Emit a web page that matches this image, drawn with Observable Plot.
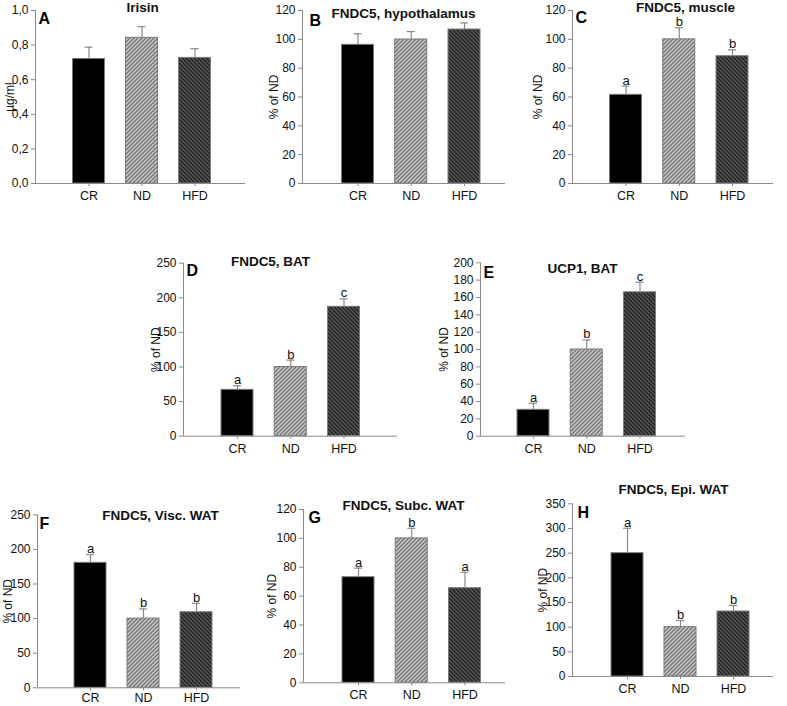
<!DOCTYPE html>
<html><head><meta charset="utf-8">
<script src="https://cdn.jsdelivr.net/npm/d3@7"></script>
<script src="https://cdn.jsdelivr.net/npm/@observablehq/plot@0.6"></script>
<style>
body{margin:0;background:#fff;}
#chart{position:relative;width:787px;height:706px;overflow:hidden;background:#fff;}
</style></head><body>
<svg width="0" height="0" style="position:absolute">
<defs>
<pattern id="hatchND" patternUnits="userSpaceOnUse" width="4" height="4">
<rect width="4" height="4" fill="#c2c2c2"/>
<path d="M-1,1 l2,-2 M0,4 l4,-4 M3,5 l2,-2" stroke="#6c6c6c" stroke-width="1.2"/>
</pattern>
<pattern id="hatchHFD" patternUnits="userSpaceOnUse" width="4" height="4">
<rect width="4" height="4" fill="#555555"/>
<path d="M-1,3 l2,2 M0,0 l4,4 M3,-1 l2,2" stroke="#202020" stroke-width="1.3"/>
</pattern>
</defs></svg>
<div id="chart"></div>
<script>
// ---- data ----
const categories = ["CR", "ND", "HFD"];
const barFills = ["#000000", "url(#hatchND)", "url(#hatchHFD)"];

const irisinMean = [0.72, 0.842, 0.726];
const irisinErr  = [0.068, 0.065, 0.053];
const irisinSig  = ["", "", ""];

const hypothMean = [96.2, 99.9, 106.8];
const hypothErr  = [7.6, 5.5, 4.6];
const hypothSig  = ["", "", ""];

const muscleMean = [61.5, 100, 88.3];
const muscleErr  = [6, 8, 4.4];
const muscleSig  = ["a", "b", "b"];

const batFndc5Mean = [67, 100, 187];
const batFndc5Err  = [6, 10, 11.5];
const batFndc5Sig  = ["a", "b", "c"];

const ucp1Mean = [30.4, 100, 166];
const ucp1Err  = [7.6, 11, 11.6];
const ucp1Sig  = ["a", "b", "c"];

const viscMean = [180.6, 100, 109.2];
const viscErr  = [12, 14, 13];
const viscSig  = ["a", "b", "b"];

const subcMean = [73.1, 100, 65.5];
const subcErr  = [6.3, 7, 11.1];
const subcSig  = ["a", "b", "a"];

const epiMean = [249.9, 100, 131.7];
const epiErr  = [50.6, 13.5, 12.2];
const epiSig  = ["a", "b", "b"];

const titles = ["Irisin", "FNDC5, hypothalamus", "FNDC5, muscle", "FNDC5, BAT", "UCP1, BAT",
                "FNDC5, Visc. WAT", "FNDC5, Subc. WAT", "FNDC5, Epi. WAT"];
const panelLetters = ["A", "B", "C", "D", "E", "F", "G", "H"];
const yLabels = ["µg/ml", "% of ND", "% of ND", "% of ND", "% of ND", "% of ND", "% of ND", "% of ND"];
const yTicksA = [0, 0.2, 0.4, 0.6, 0.8, 1.0];
const yTicks120 = [0, 20, 40, 60, 80, 100, 120];
const yTicks250 = [0, 50, 100, 150, 200, 250];
const yTicks200 = [0, 20, 40, 60, 80, 100, 120, 140, 160, 180, 200];
const yTicks350 = [0, 50, 100, 150, 200, 250, 300, 350];

// ---- layout (page pixels) ----
const panels = [
  {mean: irisinMean, err: irisinErr, sig: irisinSig, ticks: yTicksA, comma: true,
   x0: 0, y0: 0, left: 35, right: 245, top: 10, bottom: 183, c0: 88.5, step: 53, pad: 5,
   title: [142, 7], letter: [38, 18], ylab: 10},
  {mean: hypothMean, err: hypothErr, sig: hypothSig, ticks: yTicks120,
   x0: 255, y0: 0, left: 302, right: 505, top: 10, bottom: 183, c0: 357.5, step: 53.25, pad: 5,
   title: [403, 13], letter: [309, 20.5], ylab: 274},
  {mean: muscleMean, err: muscleErr, sig: muscleSig, ticks: yTicks120,
   x0: 520, y0: 0, left: 572, right: 773, top: 10, bottom: 183, c0: 625.5, step: 53.25, pad: 5,
   title: [685, 7.5], letter: [575, 17.5], ylab: 538},
  {mean: batFndc5Mean, err: batFndc5Err, sig: batFndc5Sig, ticks: yTicks250,
   x0: 135, y0: 240, left: 183, right: 397, top: 262.7, bottom: 435.7, c0: 237, step: 53.25, pad: 5,
   title: [270, 261], letter: [186, 270.5], ylab: 156},
  {mean: ucp1Mean, err: ucp1Err, sig: ucp1Sig, ticks: yTicks200,
   x0: 430, y0: 240, left: 480, right: 685, top: 262.3, bottom: 435.7, c0: 533, step: 53.25, pad: 5,
   title: [582, 268], letter: [483, 272.5], ylab: 444},
  {mean: viscMean, err: viscErr, sig: viscSig, ticks: yTicks250,
   x0: 0, y0: 480, left: 37, right: 240, top: 514.3, bottom: 687.3, c0: 90, step: 53, pad: 2.5,
   title: [160, 515], letter: [39, 523.5], ylab: 8},
  {mean: subcMean, err: subcErr, sig: subcSig, ticks: yTicks120,
   x0: 255, y0: 480, left: 303, right: 505, top: 509, bottom: 682.3, c0: 358, step: 53.25, pad: 4,
   title: [403, 505], letter: [308, 517.5], ylab: 272},
  {mean: epiMean, err: epiErr, sig: epiSig, ticks: yTicks350,
   x0: 520, y0: 480, left: 572, right: 773, top: 503.3, bottom: 676, c0: 627, step: 53, pad: 5,
   title: [673, 489], letter: [577, 512.5], ylab: 543}
];

const FONT = "'Liberation Sans', Arial, sans-serif";
const AXIS = "#8a8a8a";
const chart = document.getElementById("chart");

panels.forEach((p, k) => {
  const rows = categories.map((c, i) => ({cat: c, i, v: p.mean[i], e: p.err[i], top: p.mean[i] + p.err[i], sig: p.sig[i], fill: barFills[i]}));
  const xmin = (p.left - p.c0) / p.step;
  const xmax = (p.right - p.c0) / p.step;
  const half = 16 / p.step;
  const cap = 4 / p.step;
  const ymax = p.ticks[p.ticks.length - 1];
  const marginLeft = p.left - p.x0, marginTop = p.top - p.y0;
  const marginRight = 14, marginBottom = 26;
  const fmt = p.comma ? (d => d.toFixed(1).replace(".", ",")) : (d => String(d));
  const svg = Plot.plot({
    width: marginLeft + (p.right - p.left) + marginRight,
    height: marginTop + (p.bottom - p.top) + marginBottom,
    marginLeft, marginTop, marginRight, marginBottom,
    style: {background: "transparent", overflow: "visible", fontFamily: FONT, fontSize: "11.5px",
            position: "absolute", left: p.x0 + "px", top: p.y0 + "px", color: "#111"},
    x: {type: "linear", domain: [xmin, xmax]},
    y: {domain: [0, ymax]},
    marks: [
      Plot.rect(rows, {x1: d => d.i - half, x2: d => d.i + half, y1: 0, y2: "v",
        fill: d => d.fill, stroke: "#7a7a7a", strokeWidth: 1}),
      Plot.ruleX(rows, {x: "i", y1: "v", y2: "top", stroke: AXIS, strokeWidth: 1.2}),
      Plot.ruleY(rows, {y: "top", x1: d => d.i - cap, x2: d => d.i + cap, stroke: AXIS, strokeWidth: 1.2}),
      Plot.text(rows.filter(d => d.sig), {x: "i", y: "top", text: "sig", dy: -1.5, lineAnchor: "bottom",
        fontSize: 13, fill: "#111"}),
      Plot.ruleY([0], {stroke: AXIS, strokeWidth: 1}),
      Plot.ruleX([xmin], {stroke: AXIS, strokeWidth: 1}),
      Plot.axisY(p.ticks, {tickFormat: fmt, tickSize: 4, tickPadding: 3, stroke: AXIS, fill: "#111",
        fontSize: 12, label: null}),
      Plot.axisX([0, 1, 2], {tickFormat: i => categories[i], tickSize: 3, tickPadding: p.pad, stroke: AXIS,
        fill: "#111", fontSize: 12.5, label: null}),
      Plot.text([titles[k]], {text: d => d, frameAnchor: "top-left", dx: p.title[0] - p.left, dy: p.title[1] - p.top,
        textAnchor: "middle", lineAnchor: "middle", fontWeight: "bold", fontSize: 13.5, fill: "#111"}),
      Plot.text([panelLetters[k]], {text: d => d, frameAnchor: "top-left", dx: p.letter[0] - p.left, dy: p.letter[1] - p.top,
        textAnchor: "start", lineAnchor: "middle", fontWeight: "bold", fontSize: 16, fill: "#000"}),
      Plot.text([yLabels[k]], {text: d => d, frameAnchor: "left", dx: p.ylab - p.left, rotate: -90,
        textAnchor: "middle", lineAnchor: "middle", fontSize: 12, fill: "#111"})
    ]
  });
  chart.appendChild(svg);
});
</script>
</body></html>
